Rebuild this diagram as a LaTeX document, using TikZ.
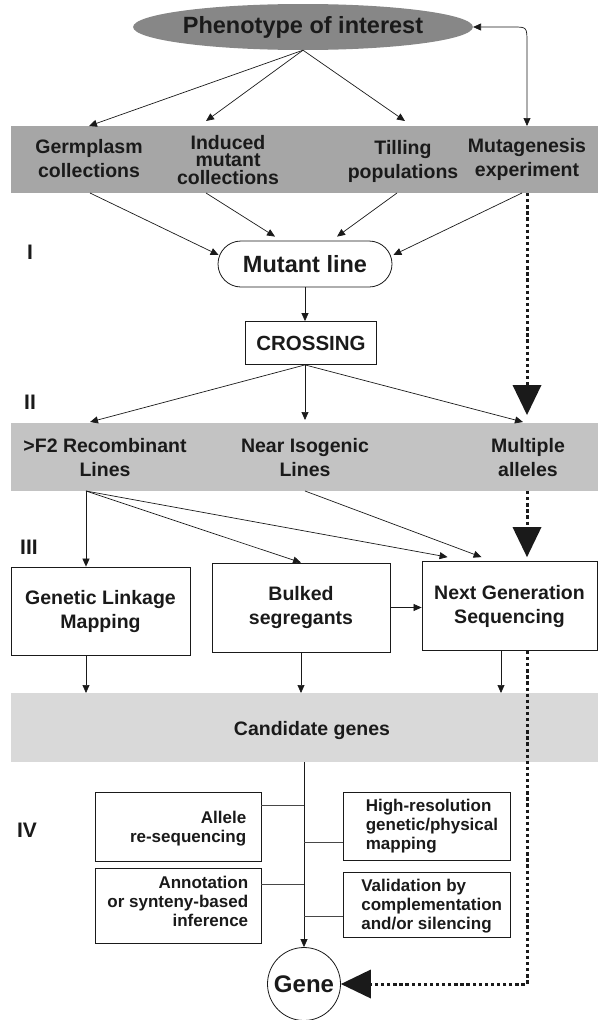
\documentclass[tikz,border=0pt]{standalone}
\usepackage{fontspec}
\setmainfont{Liberation Sans}
\usetikzlibrary{arrows.meta,calc,shapes.geometric}

\definecolor{phengray}{HTML}{878787}
\definecolor{bandone}{HTML}{A6A6A6}
\definecolor{bandtwo}{HTML}{C3C3C3}
\definecolor{bandthree}{HTML}{D9D9D9}
\definecolor{inkgray}{HTML}{1A1A1A}

\tikzset{
  lab/.style={font=\fontsize{19.5}{24}\selectfont\bfseries, text=inkgray, align=center, inner sep=0pt},
  biglab/.style={font=\fontsize{23.5}{27}\selectfont\bfseries, text=inkgray},
  smalllab/.style={font=\fontsize{17}{19}\selectfont\bfseries, text=inkgray, inner sep=0pt},
  roman/.style={font=\fontsize{21}{25}\selectfont\bfseries, text=inkgray},
  band/.style={minimum width=587pt, inner sep=0pt, outer sep=0pt},
  cbox/.style={draw=inkgray, line width=0.8pt, inner sep=0pt},
  arr/.style={draw=inkgray, line width=0.7pt, -{Triangle[length=8pt,width=7pt]}},
  link/.style={draw=inkgray!80, line width=0.8pt},
  dotline/.style={draw=inkgray, line width=3pt, dash pattern=on 3.3pt off 2.8pt,
    -{Triangle[length=30pt,width=29pt,line width=0pt]}}
}

\begin{document}
\begin{tikzpicture}[x=1pt, y=-1pt]
    \useasboundingbox (0,0) rectangle (598,1020);

    % Grey bands
    \node[band, fill=bandone, minimum height=67pt] (bandI) at (304.5,159.5) {};
    \node[band, fill=bandtwo, minimum height=68pt] (bandII) at (304.5,457) {};
    \node[band, fill=bandthree, minimum height=69pt] (bandIII) at (304.5,727.5) {};

    % Phenotype on top
    \node[ellipse, fill=phengray, minimum width=298pt, minimum height=46pt, inner sep=0pt, biglab] (phen) at (303,27) {Phenotype of interest};

    % Sources of mutants
    \node[lab] (germ) at (89,159) {Germplasm\\collections};
    \node[lab, font=\fontsize{19.5}{17.5}\selectfont\bfseries] (ind) at (228,160) {Induced\\mutant\\collections};
    \node[lab] (till) at (403,161) {Tilling\\populations};
    \node[lab] (muta) at (527,159) {Mutagenesis\\experiment};

    % Mutant line and crossing
    \node[draw=inkgray, line width=0.8pt, rounded corners=23pt, minimum width=174pt, minimum height=46pt, biglab] (mut) at (305,264) {Mutant line};
    \node[cbox, minimum width=131pt, minimum height=43pt, font=\fontsize{20.5}{24}\selectfont\bfseries, text=inkgray] (cross) at (311,343) {CROSSING};

    % Populations
    \node[lab] (f2) at (105,458) {>F2 Recombinant\\Lines};
    \node[lab] (nil) at (305,458) {Near Isogenic\\Lines};
    \node[lab] (mult) at (528,458) {Multiple\\alleles};

    % Mapping approaches
    \node[cbox, lab, minimum width=179pt, minimum height=88pt] (gl) at (100.5,611) {Genetic Linkage\\Mapping};
    \node[cbox, lab, minimum width=178pt, minimum height=89pt] (bulk) at (301,607.5) {Bulked\\segregants};
    \node[cbox, lab, minimum width=175pt, minimum height=89pt] (ngs) at (509.5,606) {Next Generation\\Sequencing};

    % Candidates and gene
    \node[lab] (cand) at (312,730) {Candidate genes};
    \node[circle, draw=inkgray, line width=0.8pt, minimum size=73pt, inner sep=0pt, font=\fontsize{24}{28}\selectfont\bfseries, text=inkgray] (gene) at (304,984) {Gene};

    % Validation boxes
    \node[cbox, minimum width=166pt, minimum height=69pt] (allele) at (178,826.5) {};
    \node[smalllab, align=right, anchor=east] (alleletxt) at ($(allele.east)+(-15,2)$) {Allele\\re-sequencing};
    \node[cbox, minimum width=167pt, minimum height=68pt] (hires) at (426.5,826) {};
    \node[smalllab, align=left, anchor=west] (hirestxt) at ($(hires.west)+(23,0)$) {High-resolution\\genetic/physical\\mapping};
    \node[cbox, minimum width=166pt, minimum height=75pt] (annot) at (178,905.5) {};
    \node[smalllab, align=right, anchor=east] (annottxt) at ($(annot.east)+(-13,-4)$) {Annotation\\or synteny-based\\inference};
    \node[cbox, minimum width=167pt, minimum height=65pt] (valid) at (426.5,904.5) {};
    \node[smalllab, align=left, anchor=west] (validtxt) at ($(valid.west)+(18.5,2)$) {Validation by\\complementation\\and/or silencing};

    % Steps
    \node[roman] (stepI) at (30,252) {I};
    \node[roman] (stepII) at (30,402) {II};
    \node[roman] (stepIII) at (29,547) {III};
    \node[roman] (stepIV) at (27,830) {IV};

    % Phenotype to sources
    \draw[arr] (phen.south) -- (germ |- bandI.north);
    \draw[arr] (phen.south) -- ($(ind |- bandI.north)+(-22,-5)$);
    \draw[arr] (phen.south) -- ($(till |- bandI.north)+(2,-5)$);
    \draw[draw=inkgray, line width=0.7pt, {Triangle[length=8pt,width=7pt]}-{Triangle[length=8pt,width=7pt]}] (phen.east) -- ($(muta |- phen.east)+(-14,0)$) .. controls (muta |- phen.east) .. ($(muta |- phen.east)+(0,16)$) -- (muta |- bandI.north);

    % Sources to mutant line
    \draw[arr] ($(germ |- bandI.south)+(1,0)$) -- ($(mut.west)+(1,-9)$);
    \draw[arr] ($(ind |- bandI.south)+(-22,0)$) -- ($(mut.north)+(-30,-4)$);
    \draw[arr] ($(till |- bandI.south)+(-6,0)$) -- ($(mut.north)+(32,-4)$);
    \draw[arr] ($(muta |- bandI.south)+(-5,0)$) -- ($(mut.east)+(1,-9)$);

    % Mutant line to crossing to populations
    \draw[arr] (mut.south) -- (mut.south |- cross.north);
    \draw[arr] (mut.south |- cross.south) -- ($(f2 |- bandII.north)+(-15,-1)$);
    \draw[arr] (mut.south |- cross.south) -- ($(nil |- bandII.north)+(0,-3)$);
    \draw[arr] (mut.south |- cross.south) -- ($(mult |- bandII.north)+(-5,-1)$);

    % Populations to mapping
    \draw[arr] ($(f2 |- bandII.south)+(-19,0)$) -- ($(f2 |- gl.north)+(-19,0)$);
    \draw[arr] ($(f2 |- bandII.south)+(-19,0)$) -- (bulk.north);
    \draw[arr] ($(f2 |- bandII.south)+(-19,0)$) -- ($(ngs.north west)+(26,-4)$);
    \draw[arr] (nil |- bandII.south) -- ($(ngs.north west)+(60,-4)$);
    \draw[arr] (bulk.east) -- (bulk.east -| ngs.west);

    % Mapping to candidates
    \draw[arr] ($(f2 |- gl.south)+(-19,0)$) -- ($(f2 |- bandIII.north)+(-19,0)$);
    \draw[arr] (bulk.south) -- (bulk.south |- bandIII.north);
    \draw[arr] ($(ngs.south)+(-8.5,0)$) -- ($(ngs.south |- bandIII.north)+(-8.5,0)$);

    % Candidates to gene
    \draw[arr] (gene |- bandIII.south) -- (gene.north);
    \draw[link] ($(allele.east)+(0,-21.5)$) -- ($(gene.north |- allele.east)+(0,-21.5)$);
    \draw[link] ($(gene.north |- hires.west)+(0,16)$) -- ($(hires.west)+(0,16)$);
    \draw[link] ($(annot.east)+(0,-21.5)$) -- ($(gene.north |- annot.east)+(0,-21.5)$);
    \draw[link] ($(gene.north |- valid.west)+(0,11.5)$) -- ($(valid.west)+(0,11.5)$);

    % Dotted shortcut from mutagenesis
    \draw[dotline] (muta |- bandI.south) -- ($(muta |- bandII.north)+(0,-8)$);
    \draw[dotline] (muta |- bandII.south) -- ($(muta |- ngs.north)+(0,-4)$);
    \draw[dotline] (muta |- ngs.south) |- (gene.east);

\end{tikzpicture}
\end{document}
